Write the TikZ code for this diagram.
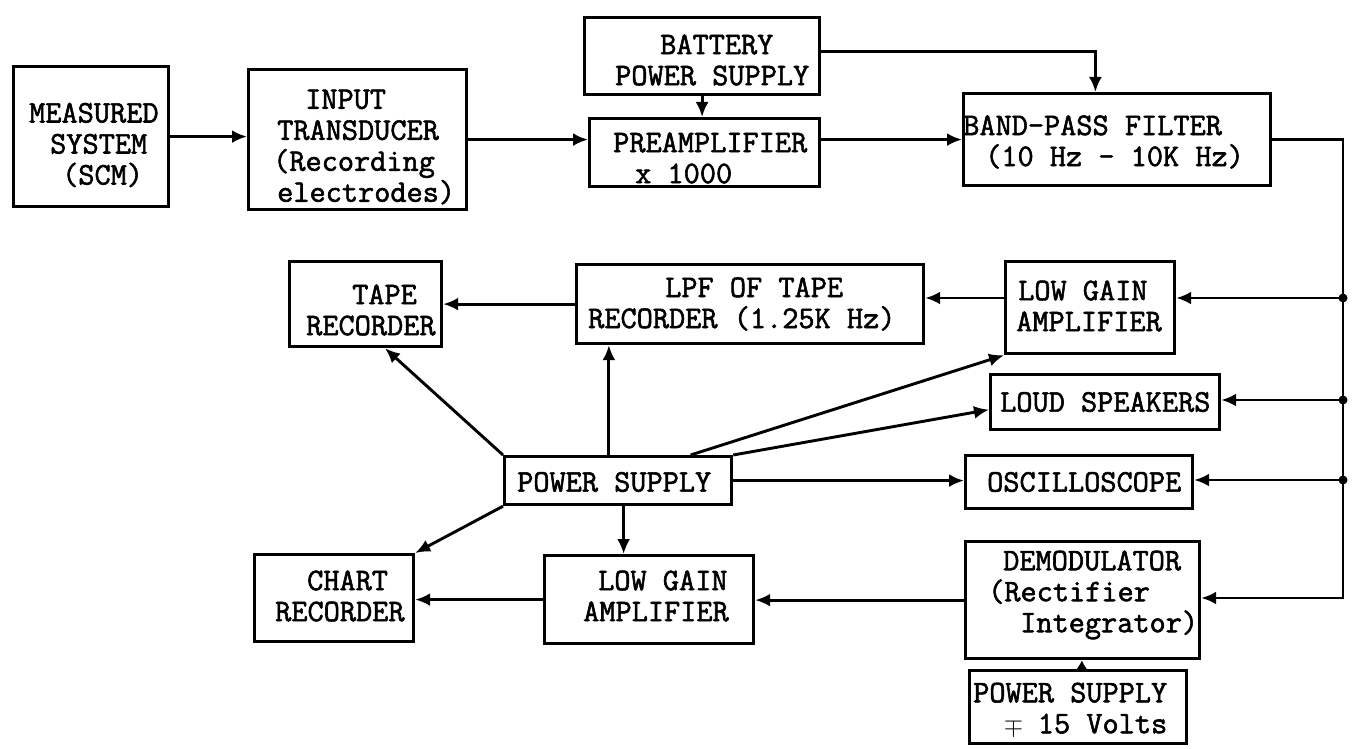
\documentclass[tikz,border=0pt]{standalone}
\usepackage{fontspec}
\newfontfamily\tw{Latin Modern Mono}[FakeBold=1.8]
\usetikzlibrary{arrows.meta,calc}
\begin{document}
\begin{tikzpicture}[x=1pt,y=-1pt,
  box/.style={draw, line width=3.2pt, inner sep=0pt, anchor=north west},
  lbl/.style={anchor=west, align=left, inner sep=0pt, font={\tw\fontsize{31.4}{31}\selectfont}},
  arr/.style={line width=2.9pt, -{Latex[length=15pt,width=13pt]}},
  jdot/.style={circle, fill, inner sep=0pt, minimum size=9pt}]
\useasboundingbox (0,0) rectangle (1352,749);

% boxes
\node[box, minimum width=155pt, minimum height=140pt] (meas) at (12,65) {};
\node[box, minimum width=218pt, minimum height=140pt] (input) at (247,68) {};
\node[box, minimum width=235pt, minimum height=77pt] (battery) at (583,16) {};
\node[box, minimum width=230pt, minimum height=68pt] (preamp) at (588,117) {};
\node[box, minimum width=307pt, minimum height=92pt] (bpf) at (962,92) {};
\node[box, minimum width=152pt, minimum height=85pt] (tape) at (288,260) {};
\node[box, minimum width=347pt, minimum height=79pt] (lpf) at (575,263) {};
\node[box, minimum width=169pt, minimum height=92pt] (lga1) at (1004,260) {};
\node[box, minimum width=229pt, minimum height=55pt] (loud) at (989,373) {};
\node[box, minimum width=227pt, minimum height=53pt] (osc) at (964,454) {};
\node[box, minimum width=227pt, minimum height=48pt] (ps) at (503,455) {};
\node[box, minimum width=159pt, minimum height=87pt] (chart) at (253,553) {};
\node[box, minimum width=209pt, minimum height=88pt] (lga2) at (543,554) {};
\node[box, minimum width=234pt, minimum height=117pt] (demod) at (964,540) {};
\node[box, minimum width=217pt, minimum height=73pt] (ps15) at (968,669) {};

% texts
\node[lbl] (measT) at (29,145) {MEASURED\\\hspace*{21pt}SYSTEM\\\hspace*{33pt}(SCM)};
\node[lbl] (inputT) at (273,147) {\hspace*{32pt}INPUT\\\hspace*{4pt}TRANSDUCER\\(Recording\\\hspace*{4pt}electrodes)};
\node[lbl] (battT) at (615,60) {\hspace*{45pt}BATTERY\\POWER SUPPLY};
\node[lbl] (preT) at (613,158) {PREAMPLIFIER\\\hspace*{22pt}x 1000};
\node[lbl] (bpfT) at (963,142) {BAND-PASS FILTER\\\hspace*{22pt}(10 Hz – 10K Hz)};
\node[lbl] (tapeT) at (306,310) {\hspace*{46pt}TAPE\\RECORDER};
\node[lbl] (lpfT) at (588,304) {\hspace*{77pt}LPF OF TAPE\\RECORDER (1.25K Hz)};
\node[lbl] (lga1T) at (1016,306) {\hspace*{2pt}LOW GAIN\\AMPLIFIER};
\node[lbl] (loudT) at (1000,402) {LOUD SPEAKERS};
\node[lbl] (oscT) at (987,482) {OSCILLOSCOPE};
\node[lbl] (psT) at (517,482) {POWER SUPPLY};
\node[lbl] (chartT) at (275,596) {\hspace*{32pt}CHART\\RECORDER};
\node[lbl] (lga2T) at (583,596) {\hspace*{15pt}LOW GAIN\\AMPLIFIER};
\node[lbl] (demT) at (988,595) {\hspace*{15pt}DEMODULATOR\\(Rectifier\\\hspace*{32pt}Integrator)};
\node[lbl] (ps15T) at (973,709) {POWER SUPPLY\\\hspace*{32pt}\makebox[16.5pt]{$\mp$} 15 Volts};

% coordinates
\coordinate (j1) at (1343,298);
\coordinate (j2) at (1343,400);
\coordinate (j3) at (1343,480);
\coordinate (jb) at (1343,598);
\coordinate (bo) at ($(battery.north east)!0.44!(battery.south east)$);
\coordinate (bi) at ($(bpf.north west)!0.43!(bpf.north east)$);
\coordinate (tb) at ($(tape.south west)!0.625!(tape.south east)$);
\coordinate (pl) at ($(ps.north west)!0.46!(ps.north east)$);
\coordinate (pg) at ($(ps.north west)!0.815!(ps.north east)$);
\coordinate (li) at ($(loud.north west)!0.63!(loud.south west)$);
\coordinate (pd) at ($(ps.south west)!0.524!(ps.south east)$);
\coordinate (pq) at ($(ps15.north west)!0.517!(ps15.north east)$);

% connectors
\draw[arr] (meas.east) -- (meas.east -| input.west);
\draw[arr] (input.east) -- (input.east -| preamp.west);
\draw[arr] (battery.south) -- (battery.south |- preamp.north);
\draw[arr] (bo) -| (bi);
\draw[arr] (preamp.east |- bpf.west) -- (bpf.west);
\draw[arr] (bpf.east) -| (jb) -- (jb -| demod.east);
\draw[arr] (j1) -- (j1 -| lga1.east);
\draw[arr] (j2) -- (j2 -| loud.east);
\draw[arr] (j3) -- (j3 -| osc.east);
\node[jdot] (d1) at (j1) {};
\node[jdot] (d2) at (j2) {};
\node[jdot] (d3) at (j3) {};
\draw[arr] (lga1.west |- j1) -- (lpf.east |- j1);
\draw[arr] (lpf.west) -- (lpf.west -| tape.east);
\draw[arr] (ps.north west) -- (tb);
\draw[arr] (pl) -- (pl |- lpf.south);
\draw[arr] (pg) -- (lga1.south west);
\draw[arr] (ps.north east) -- (li);
\draw[arr] (ps.east) -- (ps.east -| osc.west);
\draw[arr] (pd) -- (pd |- lga2.north);
\draw[arr] (ps.south west) -- (chart.north east);
\draw[arr] (demod.west) -- (demod.west -| lga2.east);
\draw[arr] (lga2.west) -- (lga2.west -| chart.east);
\draw[line width=2.9pt, -{Latex[length=9pt,width=11pt]}] (pq) -- (pq |- demod.south);
\end{tikzpicture}
\end{document}
